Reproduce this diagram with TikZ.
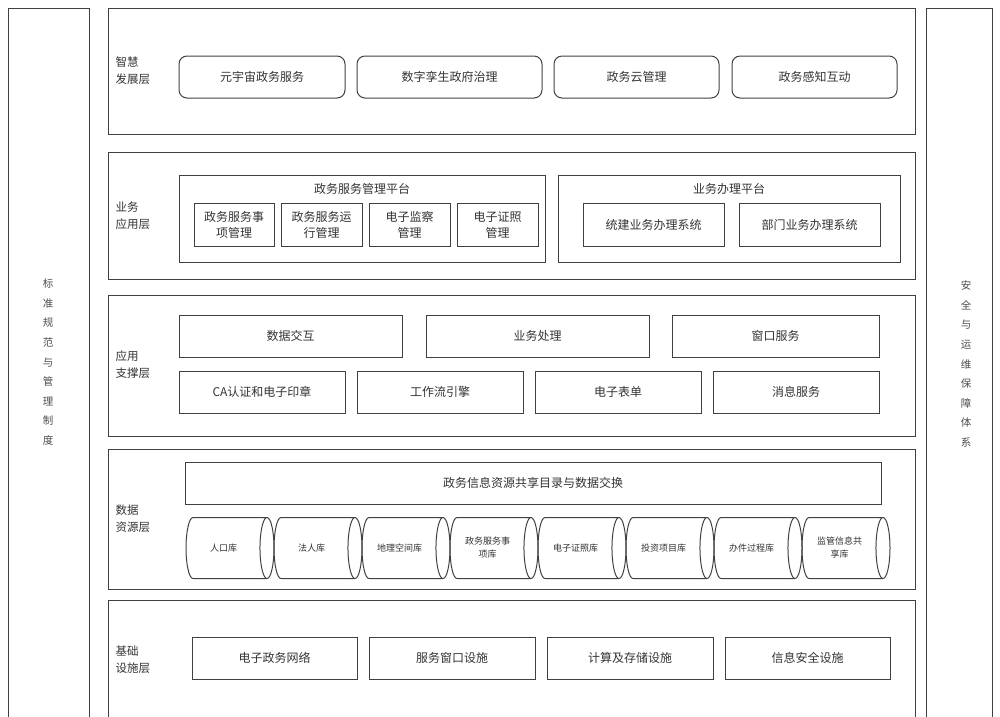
\documentclass[tikz,border=0pt]{standalone}
\usepackage{fontspec}
\setmainfont{Noto Sans CJK SC}
\usetikzlibrary{positioning,shapes.geometric}
\newcommand{\dbtext}[1]{\parbox[c][40pt][c]{62pt}{\centering #1}}

\begin{document}
\begin{tikzpicture}[x=1pt, y=-1pt,
    line/.style={draw=black!75, line width=1pt},
    box/.style={line, rectangle, inner sep=0pt, outer sep=0pt, minimum height=42pt, align=center, text=black!80, font=\fontsize{12}{17}\selectfont},
    rbox/.style={box, rounded corners=8pt},
    sbox/.style={box, minimum height=43pt, font=\fontsize{12}{16}\selectfont},
    layerlab/.style={anchor=west, align=left, text=black!80, font=\fontsize{11.5}{17}\selectfont},
    sidelab/.style={align=center, text=black!70, font=\fontsize{10.5}{19.6}\selectfont},
    dbase/.style={line, cylinder, shape aspect=0.23, minimum height=88pt, minimum width=61pt, inner xsep=0pt, inner ysep=10.5pt, outer sep=0pt, text=black!80, font=\fontsize{9}{13}\selectfont}]
    \useasboundingbox (0,0) rectangle (1000,716);

    % Side columns
    \draw[line] (8,720) -- (8,8) -- (89,8) -- (89,720);
    \draw[line] (926,720) -- (926,8) -- (992,8) -- (992,720);
    \node[sidelab] (std) at (48,362) {标\\准\\规\\范\\与\\管\\理\\制\\度};
    \node[sidelab] (sec) at (966,364) {安\\全\\与\\运\\维\\保\\障\\体\\系};

    % Layer frames
    \draw[line] (108,8) rectangle (915,134);
    \draw[line] (108,152) rectangle (915,279);
    \draw[line] (108,295) rectangle (915,436);
    \draw[line] (108,449) rectangle (915,589);
    \draw[line] (108,720) -- (108,600) -- (915,600) -- (915,720);

    \node[layerlab] (l1) at (112,71) {智慧\\发展层};
    \node[layerlab] (l2) at (112,216) {业务\\应用层};
    \node[layerlab] (l3) at (112,365) {应用\\支撑层};
    \node[layerlab] (l4) at (112,519) {数据\\资源层};
    \node[layerlab] (l5) at (112,660) {基础\\设施层};

    % Smart development layer
    \node[rbox, minimum width=166pt] (meta) at (262,77) {元宇宙政务服务};
    \node[rbox, minimum width=185pt] (twin) at (449.5,77) {数字孪生政府治理};
    \node[rbox, minimum width=165pt] (cloud) at (636.5,77) {政务云管理};
    \node[rbox, minimum width=165pt] (sense) at (814.5,77) {政务感知互动};

    % Business application layer
    \node[line, rectangle, minimum width=366pt, minimum height=87pt, inner sep=0pt] (svcplat) at (362,218.5) {};
    \node[text=black!80, font=\fontsize{12}{14}\selectfont] (svctitle) at (362,189) {政务服务管理平台};
    \node[sbox, minimum width=80pt] (item) at (234,224.5) {政务服务事\\项管理};
    \node[sbox, minimum width=81pt] (run) at (321.5,224.5) {政务服务运\\行管理};
    \node[sbox, minimum width=81pt] (moni) at (409.5,224.5) {电子监察\\管理};
    \node[sbox, minimum width=81pt] (cert) at (497.5,224.5) {电子证照\\管理};

    \node[line, rectangle, minimum width=342pt, minimum height=87pt, inner sep=0pt] (bizplat) at (729,218.5) {};
    \node[text=black!80, font=\fontsize{12}{14}\selectfont] (biztitle) at (729,189) {业务办理平台};
    \node[sbox, minimum width=141pt] (unified) at (653.5,224.5) {统建业务办理系统};
    \node[sbox, minimum width=141pt] (dept) at (809.5,224.5) {部门业务办理系统};

    % Application support layer
    \node[box, minimum width=223pt] (xchg) at (290.5,336) {数据交互};
    \node[box, minimum width=223pt] (proc) at (537.5,336) {业务处理};
    \node[box, minimum width=207pt] (win) at (775.5,336) {窗口服务};
    \node[box, minimum width=166pt] (ca) at (262,392) {CA认证和电子印章};
    \node[box, minimum width=166pt] (flow) at (440,392) {工作流引擎};
    \node[box, minimum width=166pt] (form) at (618,392) {电子表单};
    \node[box, minimum width=166pt] (msg) at (796,392) {消息服务};

    % Data resource layer
    \node[box, minimum width=696pt] (catalog) at (533,483) {政务信息资源共享目录与数据交换};
    \node[dbase, anchor=west] (db1) at (186,548) {\dbtext{人口库}};
    \node[dbase, right=0pt of db1] (db2) {\dbtext{法人库}};
    \node[dbase, right=0pt of db2] (db3) {\dbtext{地理空间库}};
    \node[dbase, right=0pt of db3] (db4) {\dbtext{政务服务事\\项库}};
    \node[dbase, right=0pt of db4] (db5) {\dbtext{电子证照库}};
    \node[dbase, right=0pt of db5] (db6) {\dbtext{投资项目库}};
    \node[dbase, right=0pt of db6] (db7) {\dbtext{办件过程库}};
    \node[dbase, right=0pt of db7] (db8) {\dbtext{监管信息共\\享库}};

    % Infrastructure layer
    \node[box, minimum width=165pt] (net) at (274.5,658) {电子政务网络};
    \node[box, minimum width=166pt] (hall) at (452,658) {服务窗口设施};
    \node[box, minimum width=166pt] (store) at (630,658) {计算及存储设施};
    \node[box, minimum width=165pt] (safe) at (807.5,658) {信息安全设施};
\end{tikzpicture}
\end{document}
